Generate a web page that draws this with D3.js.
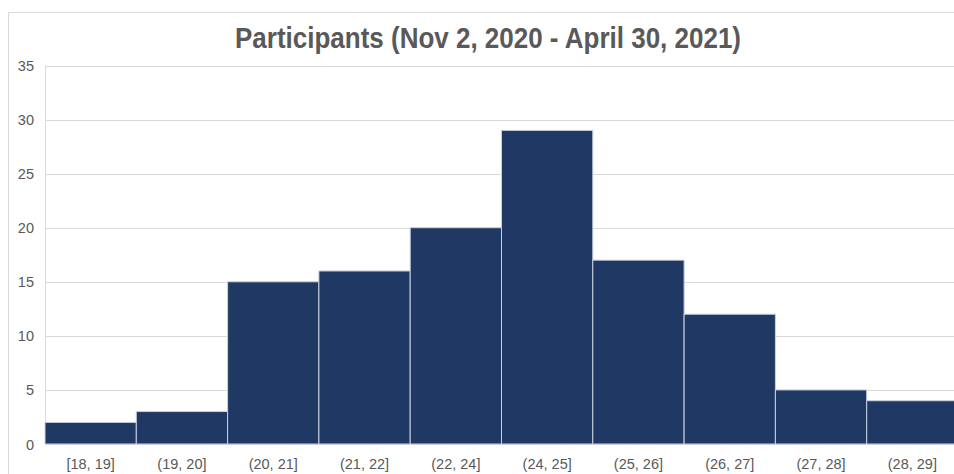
<!DOCTYPE html>
<html>
<head>
<meta charset="utf-8">
<script src="https://cdn.jsdelivr.net/npm/d3@7"></script>
<style>
  body { margin: 0; background: #fff; }
  svg { display: block; font-family: 'Liberation Sans', Arial, sans-serif; }
</style>
</head>
<body>
<svg id="svg"></svg>
<script>
const bins = ['[18, 19]', '(19, 20]', '(20, 21]', '(21, 22]', '(22, 24]', '(24, 25]', '(25, 26]', '(26, 27]', '(27, 28]', '(28, 29]']
const counts = [2, 3, 15, 16, 20, 29, 17, 12, 5, 4]
const yTicks = [0, 5, 10, 15, 20, 25, 30, 35]
const title = 'Participants  (Nov 2, 2020 - April 30, 2021)'

const w = 954
const h = 474
const margin = { top: 65.5, right: -4, bottom: 30, left: 45 }

const svg = d3.select('#svg').attr('width', w).attr('height', h)

// outer chart frame
svg.append('rect')
  .attr('x', 8.5).attr('y', 12.5)
  .attr('width', w + 20).attr('height', h + 20)
  .attr('fill', '#fff').attr('stroke', '#d9d9d9')

const x = d3.scaleBand()
  .domain(bins)
  .range([margin.left, w - margin.right])
  .padding(0)

const y = d3.scaleLinear()
  .domain([0, 35])
  .range([444, margin.top])

// gridlines
svg.append('g')
  .selectAll('line')
  .data(yTicks)
  .enter().append('line')
  .attr('x1', margin.left).attr('x2', w)
  .attr('y1', d => Math.round(y(d)) + 0.5)
  .attr('y2', d => Math.round(y(d)) + 0.5)
  .attr('stroke', '#d9d9d9')
  .attr('stroke-width', 1.2)

// left axis line
svg.append('line')
  .attr('x1', margin.left + 0.5).attr('x2', margin.left + 0.5)
  .attr('y1', y(35)).attr('y2', y(0))
  .attr('stroke', '#d9d9d9')

// bars
svg.append('g')
  .selectAll('rect')
  .data(counts)
  .enter().append('rect')
  .attr('x', (d, i) => x(bins[i]))
  .attr('y', d => y(d))
  .attr('width', x.bandwidth())
  .attr('height', d => y(0) - y(d))
  .attr('fill', '#203864')
  .attr('stroke', '#c9d0de')
  .attr('stroke-width', 1)

// y tick labels
svg.append('g')
  .selectAll('text')
  .data(yTicks)
  .enter().append('text')
  .attr('x', 34)
  .attr('y', d => y(d) + 5.5)
  .attr('text-anchor', 'end')
  .attr('fill', '#595959')
  .attr('font-size', 14.5)
  .text(d => d)

// x tick labels
svg.append('g')
  .selectAll('text')
  .data(bins)
  .enter().append('text')
  .attr('x', d => x(d) + x.bandwidth() / 2)
  .attr('y', 469)
  .attr('text-anchor', 'middle')
  .attr('fill', '#595959')
  .attr('font-size', 14.5)
  .text(d => d)

// title
svg.append('text')
  .attr('x', 488)
  .attr('y', 48)
  .attr('text-anchor', 'middle')
  .attr('fill', '#595959')
  .attr('font-size', 29)
  .attr('font-weight', 'bold')
  .attr('textLength', 506)
  .attr('lengthAdjust', 'spacingAndGlyphs')
  .text(title)
</script>
</body>
</html>
